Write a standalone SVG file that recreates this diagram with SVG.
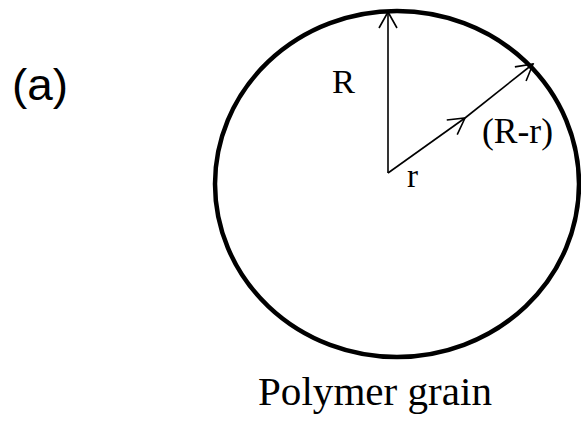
<svg xmlns="http://www.w3.org/2000/svg" width="581" height="425" viewBox="0 0 581 425">
<style>
.lbl{font-family:"Liberation Serif","Times New Roman",serif;fill:#000}
.line{stroke:#000;stroke-width:1.6;fill:none}
</style>
<defs>
<marker id="arr" viewBox="-20 -10 22 20" refX="0" refY="0" markerWidth="22" markerHeight="20" markerUnits="userSpaceOnUse" orient="auto">
<path d="M-16,-9 L0,0 L-16,9" fill="none" stroke="#000" stroke-width="1.6"/>
</marker>
</defs>
<rect width="581" height="425" fill="#fff"/>
<g id="grain">
<ellipse cx="397" cy="184" rx="182" ry="173" fill="none" stroke="#000" stroke-width="4.5"/>
</g>
<g id="connectors">
<path class="line" d="M388,173 L388,12" marker-end="url(#arr)"/>
<path class="line" d="M388,173 L465,118" marker-end="url(#arr)"/>
<path class="line" d="M465,118 L533,64" marker-end="url(#arr)"/>
</g>
<g id="labels">
<text x="12" y="100" font-family="Liberation Sans, Arial, sans-serif" font-size="45" textLength="56" lengthAdjust="spacingAndGlyphs">(a)</text>
<text class="lbl" x="332" y="93" font-size="33" textLength="23" lengthAdjust="spacingAndGlyphs">R</text>
<text class="lbl" x="482" y="143" font-size="35" textLength="71" lengthAdjust="spacingAndGlyphs">(R-r)</text>
<text class="lbl" x="407" y="187" font-size="34" textLength="11" lengthAdjust="spacingAndGlyphs">r</text>
<text class="lbl" x="258" y="405" font-size="39" textLength="234" lengthAdjust="spacingAndGlyphs">Polymer grain</text>
</g>
</svg>
